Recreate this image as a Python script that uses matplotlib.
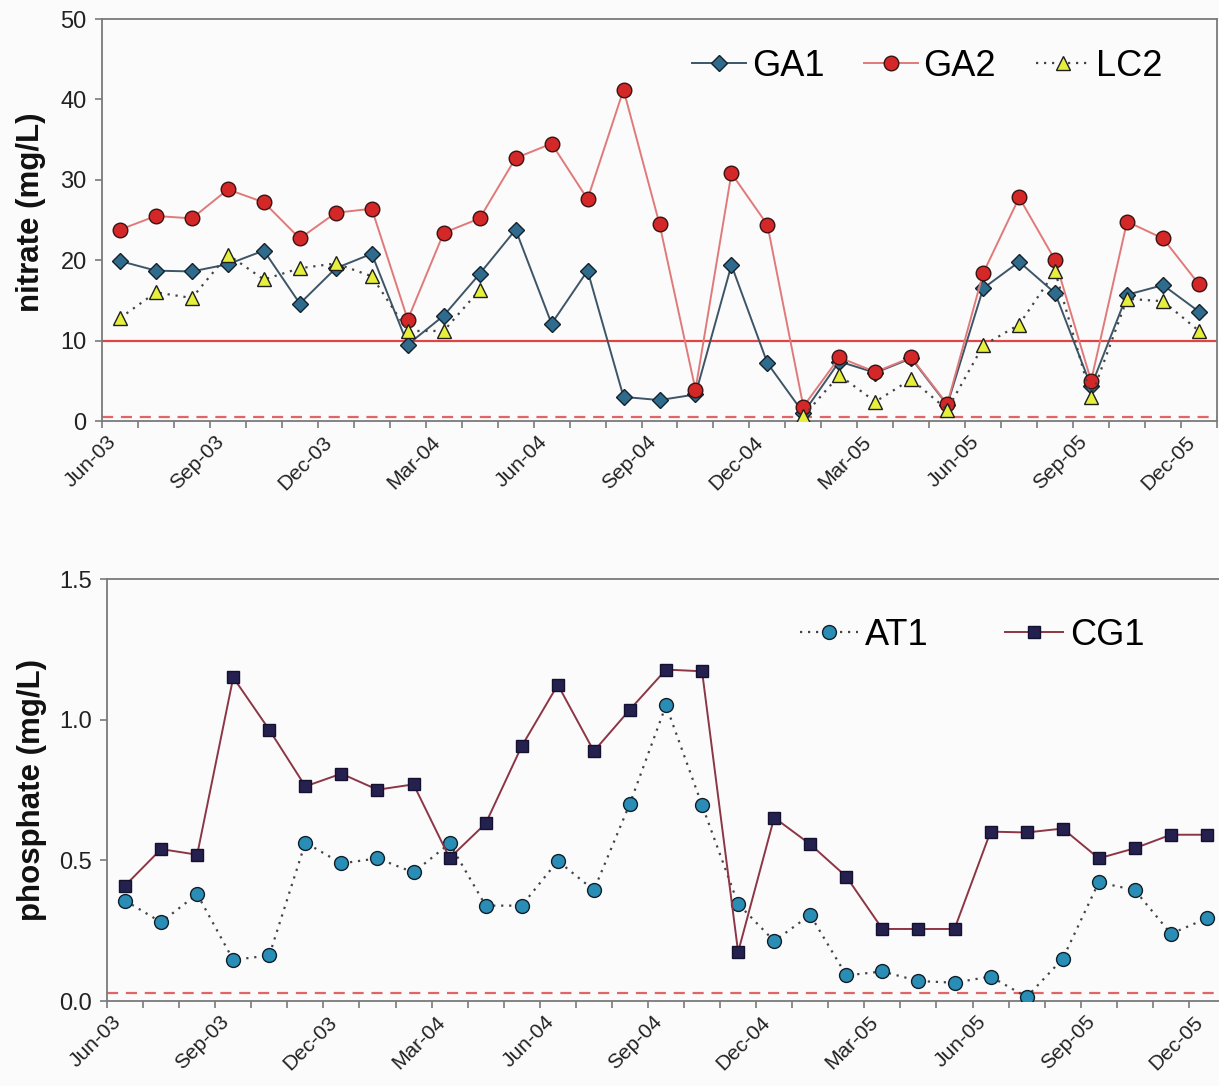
import numpy as np
import matplotlib
matplotlib.use("Agg")
import matplotlib.pyplot as plt
import matplotlib.transforms as mtransforms

plt.rcParams['font.family'] = ['Liberation Sans', 'DejaVu Sans']

# ---------------- data ----------------
months = ["Jun-03", "Jul-03", "Aug-03", "Sep-03", "Oct-03", "Nov-03", "Dec-03",
          "Jan-04", "Feb-04", "Mar-04", "Apr-04", "May-04", "Jun-04", "Jul-04",
          "Aug-04", "Sep-04", "Oct-04", "Nov-04", "Dec-04", "Jan-05", "Feb-05",
          "Mar-05", "Apr-05", "May-05", "Jun-05", "Jul-05", "Aug-05", "Sep-05",
          "Oct-05", "Nov-05", "Dec-05"]
tick_labels = ["Jun-03", "Sep-03", "Dec-03", "Mar-04", "Jun-04", "Sep-04",
               "Dec-04", "Mar-05", "Jun-05", "Sep-05", "Dec-05"]

ga1 = [19.9, 18.7, 18.6, 19.5, 21.2, 14.6, 19.0, 20.8, 9.5, 13.1, 18.3, 23.8,
       12.1, 18.7, 3.0, 2.6, 3.3, 19.4, 7.2, 1.0, 7.4, 6.0, 7.8, 2.0, 16.5,
       19.8, 15.9, 4.3, 15.7, 16.9, 13.6]
ga2 = [23.8, 25.5, 25.2, 28.8, 27.2, 22.7, 25.9, 26.4, 12.6, 23.4, 25.2, 32.7,
       34.5, 27.6, 41.2, 24.5, 3.9, 30.8, 24.4, 1.8, 7.9, 6.1, 7.9, 2.1, 18.4,
       27.8, 20.0, 5.0, 24.8, 22.7, 17.0]
lc2 = [12.8, 16.0, 15.3, 20.7, 17.6, 19.0, 19.6, 18.0, 11.2, 11.2, 16.3,
       None, None, None, None, None, None, None, None,
       0.6, 5.7, 2.4, 5.2, 1.4, 9.4, 12.0, 18.6, 3.0, 15.2, 14.9, 11.2]
nitrate_limit = 10.0
nitrate_dashed = 0.5

at1 = [0.357, 0.280, 0.380, 0.146, 0.162, 0.563, 0.489, 0.507, 0.457, 0.560,
       0.339, 0.339, 0.498, 0.394, 0.702, 1.051, 0.696, 0.345, 0.213, 0.306,
       0.091, 0.105, 0.071, 0.065, 0.087, 0.014, 0.150, 0.422, 0.394, 0.239,
       0.294]
cg1 = [0.41, 0.54, 0.52, 1.15, 0.964, 0.763, 0.808, 0.751, 0.770, 0.508,
       0.631, 0.906, 1.124, 0.888, 1.036, 1.178, 1.172, 0.174, 0.652, 0.557,
       0.442, 0.256, 0.256, 0.256, 0.602, 0.599, 0.613, 0.507, 0.543, 0.591,
       0.591]
phosphate_dashed = 0.028

# ---------------- figure ----------------
W, H = 1219, 1086
fig = plt.figure(figsize=(W / 100, H / 100), dpi=100, facecolor='#fbfbfb')

def px_axes(l, r, t, b):
    return fig.add_axes([l / W, 1 - b / H, (r - l) / W, (b - t) / H])

ax1 = px_axes(102, 1217, 19, 421)
ax2 = px_axes(107, 1225, 579, 1001)

n = len(months)
xpos = np.arange(n) + 0.5
lab_pos = [months.index(m) for m in tick_labels]

def style(ax, ylim, yticks, yfmt, ylabel, labx, laby):
    ax.set_facecolor('#fbfbfb')
    ax.set_xlim(0, n)
    ax.set_ylim(*ylim)
    ax.set_yticks(yticks)
    ax.set_yticklabels([yfmt.format(v) for v in yticks])
    ax.set_xticks(lab_pos)
    ax.set_xticklabels(tick_labels)
    ax.set_xticks(np.arange(n + 1), minor=True)
    for s in ax.spines.values():
        s.set_color('#7a7a7a')
        s.set_linewidth(1.3)
    ax.tick_params(axis='both', which='both', direction='out', length=5,
                   width=1.2, color='#7a7a7a')
    ax.tick_params(axis='y', labelsize=17, labelcolor='#222222', pad=6)
    ax.tick_params(axis='x', labelsize=15, labelcolor='#222222', pad=8)
    offset = mtransforms.ScaledTranslation(11 / 100, 0, fig.dpi_scale_trans)
    for lab in ax.get_xticklabels():
        lab.set_rotation(45)
        lab.set_ha('right')
        lab.set_va('center')
        lab.set_rotation_mode('anchor')
        lab.set_transform(lab.get_transform() + offset)
    ax.set_ylabel(ylabel, fontsize=22.5, fontweight='bold', color='#111111')
    ax.yaxis.set_label_coords(labx, laby)

style(ax1, (0, 50), [0, 10, 20, 30, 40, 50], "{:.0f}", "nitrate (mg/L)",
      -0.050, 0.52)
style(ax2, (0, 1.5), [0.0, 0.5, 1.0, 1.5], "{:.1f}", "phosphate (mg/L)",
      -0.054, 0.5)

# reference lines
ax1.axhline(nitrate_limit, color='#e04545', lw=1.6, zorder=1)
ax1.axhline(nitrate_dashed, color='#e06565', lw=1.6, ls=(0, (5, 3.5)), zorder=1)
ax2.axhline(phosphate_dashed, color='#e06565', lw=1.6, ls=(0, (5, 3.5)), zorder=1)

lc2_arr = np.array([np.nan if v is None else v for v in lc2], dtype=float)

ax1.plot(xpos, ga1, color='#3d5566', lw=1.4, marker='D', ms=8.5,
         mfc='#2f6b8c', mec='#15222b', mew=1.0, label='GA1', zorder=3)
ax1.plot(xpos, ga2, color='#e07a7a', lw=1.4, marker='o', ms=10.5,
         mfc='#d42828', mec='#3a1212', mew=1.0, label='GA2', zorder=4)
ax1.plot(xpos, lc2_arr, color='#444444', lw=1.6, ls=(0, (1, 2.6)), marker='^',
         ms=10, mfc='#e6f03c', mec='#1e1e1e', mew=1.0, label='LC2', zorder=5)

ax2.plot(xpos, at1, color='#444444', lw=1.6, ls=(0, (1, 2.6)), marker='o',
         ms=10, mfc='#2a8db5', mec='#10202a', mew=1.0, label='AT1', zorder=3)
ax2.plot(xpos, cg1, color='#8c3545', lw=1.4, marker='s', ms=9,
         mfc='#25214f', mec='#141030', mew=1.0, label='CG1', zorder=4)

ax1.legend(loc='center', bbox_to_anchor=(0.740, 0.883), ncol=3, frameon=False,
           fontsize=26, handlelength=1.5, handletextpad=0.15, columnspacing=1.1,
           borderpad=0, borderaxespad=0)
ax2.legend(loc='center', bbox_to_anchor=(0.774, 0.867), ncol=2, frameon=False,
           fontsize=26, handlelength=1.6, handletextpad=0.2, columnspacing=2.1,
           borderpad=0, borderaxespad=0)

fig.savefig('out.png', dpi=100, facecolor=fig.get_facecolor())
